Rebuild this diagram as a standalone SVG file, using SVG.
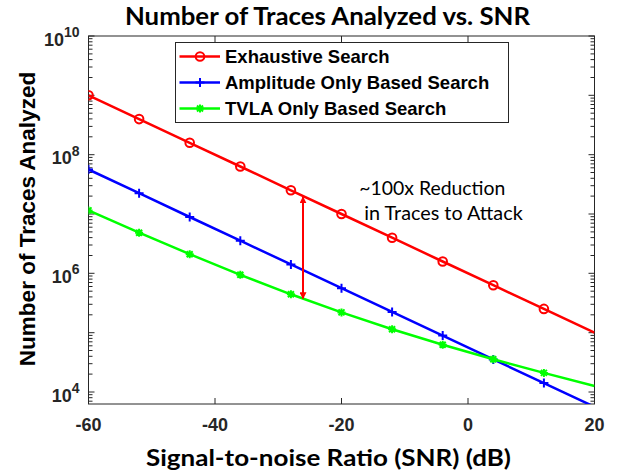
<svg xmlns="http://www.w3.org/2000/svg" xmlns:xlink="http://www.w3.org/1999/xlink" width="618" height="472" viewBox="0 0 618 472">
<style>
.tick{font-family:"Liberation Sans",Arial,sans-serif;font-weight:bold;font-size:18px;fill:#262626}
.sup{font-size:14px}
.leg{font-family:"Liberation Sans",Arial,sans-serif;font-weight:bold;font-size:18.5px;fill:#000}
.cal{font-family:Lato,"Open Sans",sans-serif;fill:#000}
.axis{fill:none;stroke:#262626;stroke-width:1}
.ser{fill:none;stroke-width:2.5;stroke-linejoin:round}
.mk{fill:none;stroke-width:2}
</style>
<defs>
<clipPath id="plotclip"><rect x="88.5" y="36" width="506" height="368"/></clipPath>
<circle id="mcirc" r="4.3" class="mk" stroke="#FF0000"/>
<path id="mplus" d="M-4.5,0H4.5M0,-4.5V4.5" class="mk" stroke="#0000FF"/>
<path id="mstar" d="M-4,0H4M0,-4V4M-3,-3L3,3M-3,3L3,-3" class="mk" stroke="#00FF00"/>
<marker id="ah" viewBox="0 0 10 10" refX="9" refY="5" markerWidth="3.5" markerHeight="3.5" orient="auto-start-reverse" markerUnits="strokeWidth">
<path d="M0,0L10,5L0,10z" fill="#FF0000"/>
</marker>
<path id="yticks" class="axis" d="M88.5,36h6M88.5,95.3h6M88.5,154.7h6M88.5,214h6M88.5,273.3h6M88.5,332.7h6M88.5,392h6
M88.5,38.7h4M88.5,41.8h4M88.5,45.2h4M88.5,49.2h4M88.5,53.9h4M88.5,59.6h4M88.5,67h4M88.5,77.5h4
M88.5,98.1h4M88.5,101.1h4M88.5,104.5h4M88.5,108.5h4M88.5,113.2h4M88.5,118.9h4M88.5,126.4h4M88.5,136.8h4
M88.5,157.4h4M88.5,160.4h4M88.5,163.9h4M88.5,167.8h4M88.5,172.5h4M88.5,178.3h4M88.5,185.7h4M88.5,196.1h4
M88.5,216.7h4M88.5,219.7h4M88.5,223.2h4M88.5,227.2h4M88.5,231.9h4M88.5,237.6h4M88.5,245h4M88.5,255.5h4
M88.5,276h4M88.5,279.1h4M88.5,282.5h4M88.5,286.5h4M88.5,291.2h4M88.5,296.9h4M88.5,304.3h4M88.5,314.8h4
M88.5,335.4h4M88.5,338.4h4M88.5,341.8h4M88.5,345.8h4M88.5,350.5h4M88.5,356.3h4M88.5,363.7h4M88.5,374.1h4
M88.5,394.7h4M88.5,397.7h4M88.5,401.2h4"/>
</defs>
<rect width="618" height="472" fill="#FFFFFF"/>

<g id="axes">
<rect x="88.5" y="36" width="506" height="368" class="axis"/>
<use xlink:href="#yticks"/>
<use xlink:href="#yticks" transform="translate(683,0) scale(-1,1)"/>
<path class="axis" d="M215,404v-6M341.5,404v-6M468,404v-6M215,36v6M341.5,36v6M468,36v6"/>
</g>

<g id="xticklabels" class="tick" text-anchor="middle">
<text x="88.5" y="430.5">-60</text>
<text x="215" y="430.5">-40</text>
<text x="341.5" y="430.5">-20</text>
<text x="468" y="430.5">0</text>
<text x="594.5" y="430.5">20</text>
</g>
<g id="yticklabels" class="tick" text-anchor="end">
<text x="79.5" y="45.7">10<tspan class="sup" dy="-8.6">10</tspan></text>
<text x="79.5" y="164.4">10<tspan class="sup" dy="-8.6">8</tspan></text>
<text x="79.5" y="283">10<tspan class="sup" dy="-8.6">6</tspan></text>
<text x="79.5" y="401.7">10<tspan class="sup" dy="-8.6">4</tspan></text>
</g>

<g id="series" clip-path="url(#plotclip)">
<g id="exhaustive">
<polyline class="ser" stroke="#FF0000" points="88.5,95.3 139.1,119.1 189.7,142.8 240.3,166.5 290.9,190.3 341.5,214 392.1,237.7 442.7,261.5 493.3,285.2 543.9,308.9 594.5,332.7"/>
<use xlink:href="#mcirc" x="88.5" y="95.3"/><use xlink:href="#mcirc" x="139.1" y="119.1"/><use xlink:href="#mcirc" x="189.7" y="142.8"/><use xlink:href="#mcirc" x="240.3" y="166.5"/><use xlink:href="#mcirc" x="290.9" y="190.3"/><use xlink:href="#mcirc" x="341.5" y="214"/><use xlink:href="#mcirc" x="392.1" y="237.7"/><use xlink:href="#mcirc" x="442.7" y="261.5"/><use xlink:href="#mcirc" x="493.3" y="285.2"/><use xlink:href="#mcirc" x="543.9" y="308.9"/>
</g>
<g id="amplitude">
<polyline class="ser" stroke="#0000FF" points="88.5,169.5 139.1,193.2 189.7,217 240.3,240.7 290.9,264.4 341.5,288.2 392.1,311.9 442.7,335.6 493.3,359.4 543.9,383.1 594.5,406.8"/>
<use xlink:href="#mplus" x="88.5" y="169.5"/><use xlink:href="#mplus" x="139.1" y="193.2"/><use xlink:href="#mplus" x="189.7" y="217"/><use xlink:href="#mplus" x="240.3" y="240.7"/><use xlink:href="#mplus" x="290.9" y="264.4"/><use xlink:href="#mplus" x="341.5" y="288.2"/><use xlink:href="#mplus" x="392.1" y="311.9"/><use xlink:href="#mplus" x="442.7" y="335.6"/><use xlink:href="#mplus" x="493.3" y="359.4"/><use xlink:href="#mplus" x="543.9" y="383.1"/>
</g>
<g id="tvla">
<polyline class="ser" stroke="#00FF00" points="88.5,210.4 139.1,232.7 189.7,254.2 240.3,274.8 290.9,294.3 341.5,312.4 392.1,329.2 442.7,344.8 493.3,359.3 543.9,372.9 594.5,386"/>
<use xlink:href="#mstar" x="88.5" y="210.4"/><use xlink:href="#mstar" x="139.1" y="232.7"/><use xlink:href="#mstar" x="189.7" y="254.2"/><use xlink:href="#mstar" x="240.3" y="274.8"/><use xlink:href="#mstar" x="290.9" y="294.3"/><use xlink:href="#mstar" x="341.5" y="312.4"/><use xlink:href="#mstar" x="392.1" y="329.2"/><use xlink:href="#mstar" x="442.7" y="344.8"/><use xlink:href="#mstar" x="493.3" y="359.3"/><use xlink:href="#mstar" x="543.9" y="372.9"/>
</g>
</g>

<g id="connectors">
<line x1="303" y1="197" x2="303" y2="298.5" stroke="#FF0000" stroke-width="2" marker-start="url(#ah)" marker-end="url(#ah)"/>
</g>

<g id="annotation" class="cal" font-size="18.5">
<text x="359.3" y="195" textLength="146" lengthAdjust="spacingAndGlyphs">~100x Reduction</text>
<text x="364.3" y="220" textLength="158.4" lengthAdjust="spacingAndGlyphs">in Traces to Attack</text>
</g>

<g id="legend">
<rect x="175.5" y="42.5" width="333" height="80" fill="#FFFFFF" stroke="#262626" stroke-width="1"/>
<line x1="179.5" y1="56.5" x2="220" y2="56.5" stroke="#FF0000" stroke-width="2.5"/>
<use xlink:href="#mcirc" x="200" y="56.5"/>
<text class="leg" x="225" y="63.3">Exhaustive Search</text>
<line x1="179.5" y1="82.5" x2="220" y2="82.5" stroke="#0000FF" stroke-width="2.5"/>
<use xlink:href="#mplus" x="200" y="82.5"/>
<text class="leg" x="225" y="89.3">Amplitude Only Based Search</text>
<line x1="179.5" y1="108.5" x2="220" y2="108.5" stroke="#00FF00" stroke-width="2.5"/>
<use xlink:href="#mstar" x="200" y="108.5"/>
<text class="leg" x="225" y="115.3">TVLA Only Based Search</text>
</g>

<g id="labels">
<text class="cal" x="125" y="25" font-size="24" font-weight="bold" textLength="405" lengthAdjust="spacingAndGlyphs">Number of Traces Analyzed vs. SNR</text>
<text class="cal" x="146" y="466" font-size="22.5" font-weight="bold" textLength="365" lengthAdjust="spacingAndGlyphs">Signal-to-noise Ratio (SNR) (dB)</text>
<text transform="translate(35,219) rotate(-90)" text-anchor="middle" font-family="Liberation Sans, Arial, sans-serif" font-weight="bold" font-size="22.5" fill="#000">Number of Traces Analyzed</text>
</g>
</svg>
